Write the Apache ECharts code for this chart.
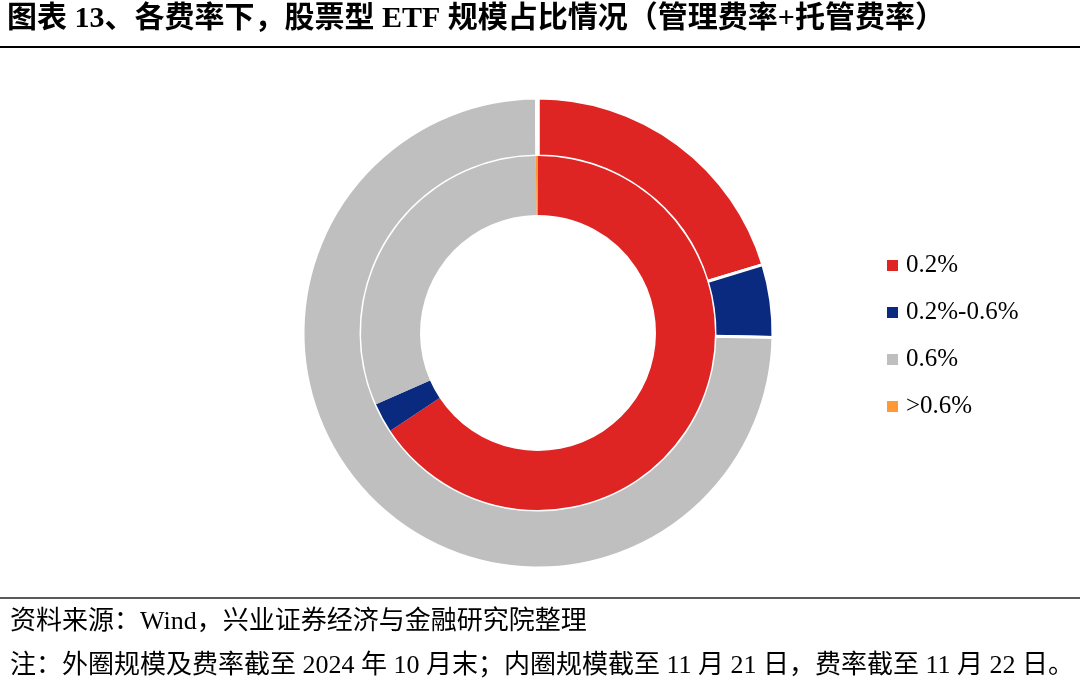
<!DOCTYPE html>
<html>
<head>
    <meta charset="utf-8">
    <title>股票型 ETF 规模占比</title>
    <script src="https://cdn.jsdelivr.net/npm/echarts@6/dist/echarts.min.js"></script>
    <style>
        html, body { margin: 0; padding: 0; background: #fff; }
    </style>
</head>
<body>
    <div id="pieChart" style="width: 1080px; height: 689px;"></div>

    <script>
        var chart = echarts.init(document.getElementById('pieChart'));

        // 费率分档
        var categories = ['0.2%', '0.2%-0.6%', '0.6%', '>0.6%'];
        // 外圈：2024年10月末规模占比 (%)
        var outerValues = [20.3, 5.0, 74.6, 0.1];
        // 内圈：11月21日规模占比 (%)
        var innerValues = [65.7, 2.7, 31.4, 0.2];
        var colors = ['#df2424', '#0a2a7f', '#bfbfbf', '#ff9933'];

        var serif = "'Liberation Serif', 'Times New Roman', 'Noto Sans CJK SC', serif";

        function toData(values) {
            return values.map(function (v, i) {
                return { name: categories[i], value: v };
            });
        }

        var option = {
            color: colors,
            animation: false,
            title: {
                text: '图表 13、各费率下，股票型 ETF 规模占比情况（管理费率+托管费率）',
                left: 7,
                top: 4,
                padding: 0,
                textStyle: { fontFamily: serif, fontSize: 30, fontWeight: 'bold', color: '#000' }
            },
            legend: {
                orient: 'vertical',
                left: 885,
                top: 253,
                padding: 0,
                itemWidth: 13,
                itemHeight: 13,
                itemGap: 22,
                icon: 'rect',
                data: categories,
                textStyle: { fontFamily: serif, fontSize: 25, color: '#000', padding: [0, 0, 0, 2] }
            },
            graphic: [
                { type: 'line', shape: { x1: 0, y1: 47, x2: 1080, y2: 47 }, style: { stroke: '#000', lineWidth: 2 } },
                { type: 'line', shape: { x1: 0, y1: 598, x2: 1080, y2: 598 }, style: { stroke: '#222', lineWidth: 1.5 } },
                {
                    type: 'text', left: 10, top: 609,
                    style: { text: '资料来源：Wind，兴业证券经济与金融研究院整理', font: '26px ' + serif, fill: '#000' }
                },
                {
                    type: 'text', left: 10, top: 653,
                    style: { text: '注：外圈规模及费率截至 2024 年 10 月末；内圈规模截至 11 月 21 日，费率截至 11 月 22 日。', font: '26px ' + serif, fill: '#000' }
                }
            ],
            series: [
                {
                    name: '外圈',
                    type: 'pie',
                    center: [538, 333],
                    radius: [177, 235],
                    startAngle: 90,
                    clockwise: true,
                    label: { show: false },
                    labelLine: { show: false },
                    itemStyle: { borderColor: '#fff', borderWidth: 3 },
                    emphasis: { disabled: true },
                    data: toData(outerValues)
                },
                {
                    name: '内圈',
                    type: 'pie',
                    center: [538, 333],
                    radius: [118, 177],
                    startAngle: 90,
                    clockwise: true,
                    label: { show: false },
                    labelLine: { show: false },
                    itemStyle: { borderColor: '#fff', borderWidth: 0 },
                    emphasis: { disabled: true },
                    data: toData(innerValues)
                }
            ]
        };

        chart.setOption(option);
    </script>
</body>
</html>
